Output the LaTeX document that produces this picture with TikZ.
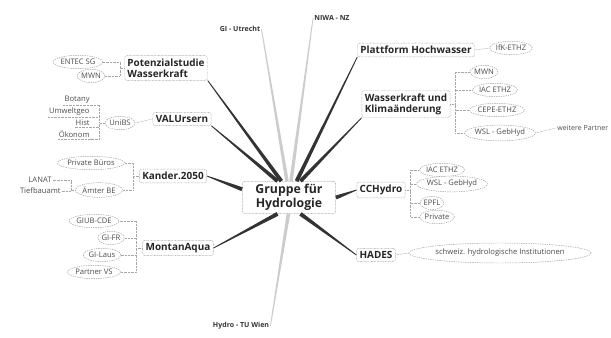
\documentclass[tikz,border=0pt]{standalone}
\usepackage{fontspec}
\setmainfont{Open Sans}
\usetikzlibrary{shapes.geometric,calc}

\begin{document}
\begin{tikzpicture}
[x=0.03cm,y=-0.03cm,
 topic/.style={draw=gray!75,dash pattern=on 0.6pt off 0.6pt,rounded corners=2pt,fill=white,inner sep=2.5pt,align=left,text=black!85,font=\fontsize{8.5}{9.5}\selectfont\bfseries},
 partner/.style={ellipse,draw=gray!75,dash pattern=on 1.2pt off 0.8pt,fill=white,inner xsep=0pt,inner ysep=1.5pt,minimum height=0.4cm,text=black!70,font=\fontsize{6.5}{7}\selectfont},
 leaf/.style={inner sep=1pt,text=black!70,font=\fontsize{6.5}{7}\selectfont},
 extern/.style={inner sep=1pt,text=black!80,font=\fontsize{6}{7}\selectfont\bfseries},
 twig/.style={draw=gray!70,dash pattern=on 0.6pt off 0.6pt,line width=0.45pt},
 branch/.style={fill=black!80},
 faint/.style={fill=gray!40}]

  \useasboundingbox (0,0) rectangle (611,338);

  % hub
  \node (hub) at (289,197.5) [topic,align=center,minimum width=2.8cm,minimum height=0.87cm,font=\fontsize{10.5}{12}\selectfont\bfseries] {Gruppe für\\Hydrologie};

  % projects
  \node (pot) at (166,68) [topic] {Potenzialstudie\\Wasserkraft};
  \node (valu) at (182,119) [topic] {VALUrsern};
  \node (kander) at (173,176) [topic] {Kander.2050};
  \node (montan) at (178,248) [topic] {MontanAqua};
  \node (platt) at (416,50) [topic] {Plattform Hochwasser};
  \node (wasser) at (406,104) [topic] {Wasserkraft und\\Klimaänderung};
  \node (cch) at (381,190) [topic] {CCHydro};
  \node (hades) at (376,255) [topic] {HADES};

  % outside groups
  \node (utrecht) at (240,29) [extern] {GI - Utrecht};
  \node (niwa) at (332,18) [extern] {NIWA - NZ};
  \node (tuwien) at (241,326) [extern] {Hydro - TU Wien};

  % partners left
  \node (entec) at (78,62) [partner] {ENTEC SG};
  \node (mwnl) at (91,76) [partner] {MWN};
  \node (unibs) at (120,123) [partner] {UniBS};
  \node (botany) at (91,100) [leaf,anchor=east] {Botany};
  \node (umwelt) at (91,112) [leaf,anchor=east] {Umweltgeo};
  \node (hist) at (91,123) [leaf,anchor=east] {Hist};
  \node (oekonom) at (91,134) [leaf,anchor=east] {Ökonom};
  \node (bueros) at (91,163) [partner] {Private Büros};
  \node (aemter) at (99,190) [partner] {Ämter BE};
  \node (lanat) at (40,180) [leaf] {LANAT};
  \node (tiefbau) at (62,191) [leaf,anchor=east] {Tiefbauamt};
  \node (giub) at (94,221) [partner] {GIUB-CDE};
  \node (gifr) at (111,238) [partner] {GI-FR};
  \node (gilaus) at (102,255) [partner] {GI-Laus};
  \node (partvs) at (94,272) [partner] {Partner VS};

  % partners right
  \node (ifk) at (511,48) [partner] {IfK-ETHZ};
  \node (mwnr) at (484,72) [partner] {MWN};
  \node (iaca) at (495,90) [partner] {IAC ETHZ};
  \node (cepe) at (497,110) [partner] {CEPE-ETHZ};
  \node (wsla) at (500,133) [partner] {WSL - GebHyd};
  \node (weitere) at (556,128) [leaf,anchor=west,font=\fontsize{6}{7}\selectfont] {weitere Partner};
  \node (iacb) at (442,170) [partner] {IAC ETHZ};
  \node (wslb) at (452,184) [partner] {WSL - GebHyd};
  \node (epfl) at (432,203) [partner] {EPFL};
  \node (privat) at (437,217) [partner] {Private};
  \node (inst) at (500,253) [partner,minimum width=5.4cm,minimum height=0.6cm] {schweiz. hydrologische Institutionen};

  % main branches
  \foreach \a/\b in {hub.115/pot.south east,hub.125/valu.south east,hub.170/kander.east,hub.235/montan.east,
                     hub.65/platt.south west,hub.55/wasser.south west,hub.east/cch.west,hub.-55/hades.west}
    \fill[branch] ($(\a)!1.7pt!90:(\b)$) -- ($(\b)!0.35pt!-90:(\a)$) -- ($(\b)!0.35pt!90:(\a)$) -- ($(\a)!1.7pt!-90:(\b)$) -- cycle;
  \foreach \a/\b in {hub.97/utrecht.east,hub.83/niwa.west,hub.268/tuwien.east}
    \fill[faint] ($(\a)!1.5pt!90:(\b)$) -- ($(\b)!0.35pt!-90:(\a)$) -- ($(\b)!0.35pt!90:(\a)$) -- ($(\a)!1.5pt!-90:(\b)$) -- cycle;

  % twigs
  \foreach \to in {entec,mwnl}
    \draw[twig] (pot.west) -- ++(-4,0) |- (\to.east);
  \draw[twig] (valu.west) -- (unibs.east);
  \foreach \to in {botany,umwelt,hist,oekonom}
    \draw[twig] (unibs.west) -- ++(-5,0) |- (\to.south east) -- (\to.south west);
  \foreach \to in {bueros,aemter}
    \draw[twig] (kander.west) -- ++(-6,0) |- (\to.east);
  \foreach \to in {lanat,tiefbau}
    \draw[twig] (aemter.west) -- ++(-4,0) |- (\to.east);
  \foreach \to in {giub,gifr,gilaus,partvs}
    \draw[twig] (montan.west) -- ++(-6,0) |- (\to.east);
  \draw[twig] (platt.east) -- (ifk.west);
  \foreach \to in {mwnr,iaca,cepe,wsla}
    \draw[twig] (wasser.east) -- ++(5,0) |- (\to.west);
  \draw[twig] (wsla.east) -- (weitere.west);
  \foreach \to in {iacb,wslb,epfl,privat}
    \draw[twig] (cch.east) -- ++(5,0) |- (\to.west);
  \draw[twig] (hades.east) -- (inst.west);
\end{tikzpicture}
\end{document}
